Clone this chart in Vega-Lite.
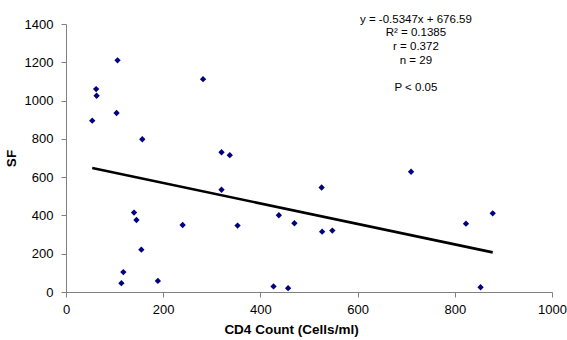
{
  "$schema": "https://vega.github.io/schema/vega-lite/v6.json",
  "width": 486,
  "height": 268,
  "autosize": "none",
  "padding": {"left": 66, "top": 24, "right": 15, "bottom": 48},
  "background": "white",
  "config": {
    "view": {"stroke": null},
    "font": "Liberation Sans",
    "axis": {
      "grid": false,
      "domainColor": "#808080",
      "tickColor": "#808080",
      "labelColor": "#000000",
      "labelFont": "Liberation Sans",
      "labelFontSize": 13,
      "labelOverlap": false,
      "titleFont": "Liberation Sans",
      "titleFontSize": 13.5,
      "titleFontWeight": "bold",
      "titleColor": "#000000",
      "tickSize": 5
    }
  },
  "datasets": {
    "points": [
      {"cd4": 54, "sf": 895},
      {"cd4": 62, "sf": 1060},
      {"cd4": 63, "sf": 1025},
      {"cd4": 106, "sf": 1210},
      {"cd4": 104, "sf": 935},
      {"cd4": 157, "sf": 798},
      {"cd4": 282, "sf": 1112},
      {"cd4": 320, "sf": 730},
      {"cd4": 337, "sf": 715},
      {"cd4": 320, "sf": 534},
      {"cd4": 140, "sf": 415},
      {"cd4": 145, "sf": 376},
      {"cd4": 240, "sf": 350},
      {"cd4": 353, "sf": 347},
      {"cd4": 438, "sf": 401},
      {"cd4": 470, "sf": 359},
      {"cd4": 155, "sf": 221},
      {"cd4": 118, "sf": 104},
      {"cd4": 114, "sf": 46},
      {"cd4": 189, "sf": 58},
      {"cd4": 427, "sf": 29},
      {"cd4": 457, "sf": 20},
      {"cd4": 526, "sf": 546},
      {"cd4": 527, "sf": 315},
      {"cd4": 548, "sf": 321},
      {"cd4": 710, "sf": 628},
      {"cd4": 823, "sf": 357},
      {"cd4": 878, "sf": 411},
      {"cd4": 853, "sf": 25}
    ],
    "trend": [
      {"cd4": 54, "sf": 647.7},
      {"cd4": 878, "sf": 207.1}
    ],
    "notes": [
      {"label": "y = -0.5347x + 676.59", "cd4": 720, "sf": 1421},
      {"label": "R² = 0.1385", "cd4": 720, "sf": 1351},
      {"label": "r = 0.372", "cd4": 720, "sf": 1281},
      {"label": "n = 29", "cd4": 720, "sf": 1209},
      {"label": "P < 0.05", "cd4": 720, "sf": 1068}
    ]
  },
  "encoding": {
    "x": {"field": "cd4", "type": "quantitative", "scale": {"domain": [0, 1000], "nice": false},
      "axis": {"values": [0, 200, 400, 600, 800, 1000], "format": "d", "title": "CD4 Count (Cells/ml)", "titlePadding": 6, "labelPadding": 6, "titleX": 225, "labelOverlap": false, "labelFlush": false}},
    "y": {"field": "sf", "type": "quantitative", "scale": {"domain": [0, 1400], "nice": false},
      "axis": {"values": [0, 200, 400, 600, 800, 1000, 1200, 1400], "tickCount": 8, "format": "d", "title": "SF", "titlePadding": 6, "labelPadding": 8, "labelOverlap": false, "labelFlush": false}}
  },
  "layer": [
    {
      "data": {"name": "points"},
      "mark": {"type": "point", "shape": "diamond", "filled": true, "color": "#000080", "size": 40, "opacity": 1}
    },
    {
      "data": {"name": "trend"},
      "mark": {"type": "line", "color": "#000000", "strokeWidth": 2.6}
    },
    {
      "data": {"name": "notes"},
      "mark": {"type": "text", "font": "Liberation Sans", "fontSize": 11.5, "color": "#000000", "align": "center", "baseline": "middle"},
      "encoding": {
        "text": {"field": "label"}
      }
    }
  ]
}
